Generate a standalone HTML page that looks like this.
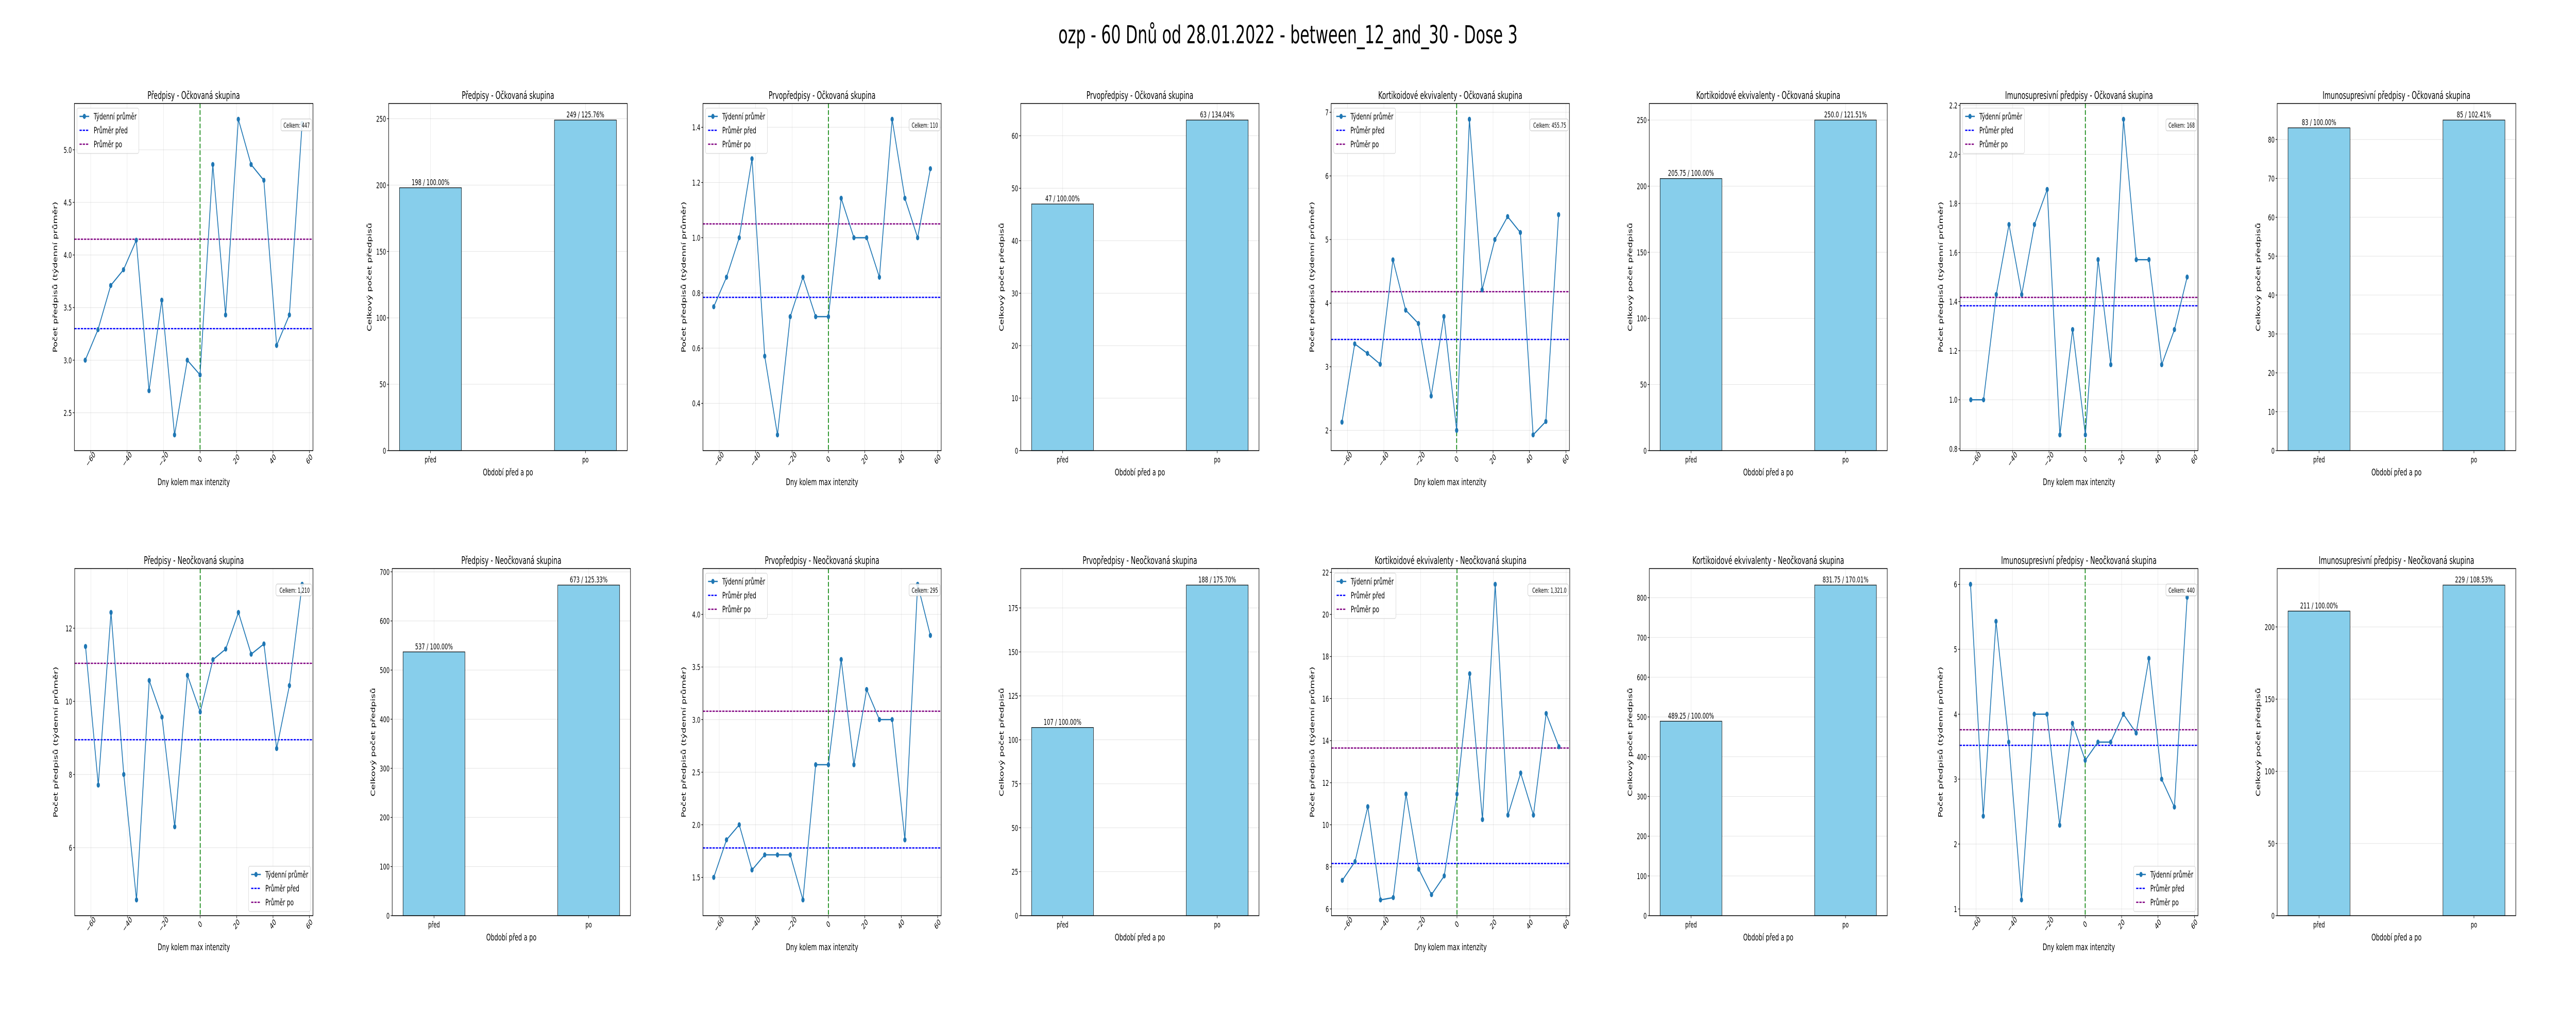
<!DOCTYPE html>
<html>
<head>
<meta charset="utf-8">
<style>
html,body{margin:0;padding:0;background:#fff;overflow:hidden;width:100vw;height:100vh;}
svg{display:block;width:100vw;height:100vh;font-family:"DejaVu Sans","Liberation Sans",sans-serif;}
</style>
</head>
<body>
<svg id="fig" viewBox="0 0 8000 2000" preserveAspectRatio="none" xmlns="http://www.w3.org/2000/svg">
<rect x="0" y="0" width="8000" height="2000" fill="#fff"/>
<text x="4000" y="84" text-anchor="middle" font-size="48" fill="#000">ozp - 60 Dnů od 28.01.2022 - between_12_and_30 - Dose 3</text>
</svg>
<script>
// ---- shared data ----
const days = [-63,-56,-49,-42,-35,-28,-21,-14,-7,0,7,14,21,28,35,42,49,56];
const xTicks = [-60,-40,-20,0,20,40,60];
const barCategories = ["před","po"];

// ---- top row: Očkovaná ----
const predOckWeekly = [3.0,3.29,3.71,3.86,4.14,2.71,3.57,2.29,3.0,2.86,4.86,3.43,5.29,4.86,4.71,3.14,3.43,5.25];
const predOckMeans = [3.30,4.15];
const predOckYTicks = [2.5,3.0,3.5,4.0,4.5,5.0];
const predOckYLabels = ["2.5","3.0","3.5","4.0","4.5","5.0"];
const predOckTotals = [198,249];
const predOckBarLabels = ["198 / 100.00%","249 / 125.76%"];
const predOckBarTicks = [0,50,100,150,200,250];

const prvoOckWeekly = [0.75,0.857,1.0,1.286,0.571,0.286,0.714,0.857,0.714,0.714,1.143,1.0,1.0,0.857,1.429,1.143,1.0,1.25];
const prvoOckMeans = [0.784,1.05];
const prvoOckYTicks = [0.4,0.6,0.8,1.0,1.2,1.4];
const prvoOckYLabels = ["0.4","0.6","0.8","1.0","1.2","1.4"];
const prvoOckTotals = [47,63];
const prvoOckBarLabels = ["47 / 100.00%","63 / 134.04%"];
const prvoOckBarTicks = [0,10,20,30,40,50,60];

const kortOckWeekly = [2.13,3.36,3.21,3.04,4.68,3.89,3.68,2.54,3.79,2.0,6.89,4.21,5.0,5.36,5.11,1.93,2.14,5.39];
const kortOckMeans = [3.43,4.18];
const kortOckYTicks = [2,3,4,5,6,7];
const kortOckYLabels = ["2","3","4","5","6","7"];
const kortOckTotals = [205.75,250.0];
const kortOckBarLabels = ["205.75 / 100.00%","250.0 / 121.51%"];
const kortOckBarTicks = [0,50,100,150,200,250];

const imunOckWeekly = [1.0,1.0,1.429,1.714,1.429,1.714,1.857,0.857,1.286,0.857,1.571,1.143,2.143,1.571,1.571,1.143,1.286,1.5];
const imunOckMeans = [1.383,1.417];
const imunOckYTicks = [0.8,1.0,1.2,1.4,1.6,1.8,2.0,2.2];
const imunOckYLabels = ["0.8","1.0","1.2","1.4","1.6","1.8","2.0","2.2"];
const imunOckTotals = [83,85];
const imunOckBarLabels = ["83 / 100.00%","85 / 102.41%"];
const imunOckBarTicks = [0,10,20,30,40,50,60,70,80];

// ---- bottom row: Neočkovaná ----
const predNeoWeekly = [11.5,7.71,12.43,8.0,4.57,10.57,9.57,6.57,10.71,9.71,11.14,11.43,12.43,11.29,11.57,8.71,10.43,13.2];
const predNeoMeans = [8.95,11.04];
const predNeoYTicks = [6,8,10,12];
const predNeoYLabels = ["6","8","10","12"];
const predNeoTotals = [537,673];
const predNeoBarLabels = ["537 / 100.00%","673 / 125.33%"];
const predNeoBarTicks = [0,100,200,300,400,500,600,700];

const prvoNeoWeekly = [1.5,1.857,2.0,1.571,1.714,1.714,1.714,1.286,2.571,2.571,3.571,2.571,3.286,3.0,3.0,1.857,4.286,3.8];
const prvoNeoMeans = [1.78,3.08];
const prvoNeoYTicks = [1.5,2.0,2.5,3.0,3.5,4.0];
const prvoNeoYLabels = ["1.5","2.0","2.5","3.0","3.5","4.0"];
const prvoNeoTotals = [107,188];
const prvoNeoBarLabels = ["107 / 100.00%","188 / 175.70%"];
const prvoNeoBarTicks = [0,25,50,75,100,125,150,175];

const kortNeoWeekly = [7.36,8.25,10.86,6.43,6.54,11.46,7.89,6.68,7.57,11.46,17.18,10.25,21.43,10.46,12.46,10.46,15.29,13.71];
const kortNeoMeans = [8.16,13.65];
const kortNeoYTicks = [6,8,10,12,14,16,18,20,22];
const kortNeoYLabels = ["6","8","10","12","14","16","18","20","22"];
const kortNeoTotals = [489.25,831.75];
const kortNeoBarLabels = ["489.25 / 100.00%","831.75 / 170.01%"];
const kortNeoBarTicks = [0,100,200,300,400,500,600,700,800];

const imunNeoWeekly = [6.0,2.43,5.43,3.57,1.14,4.0,4.0,2.29,3.86,3.29,3.57,3.57,4.0,3.71,4.86,3.0,2.57,5.8];
const imunNeoMeans = [3.52,3.76];
const imunNeoYTicks = [1,2,3,4,5,6];
const imunNeoYLabels = ["1","2","3","4","5","6"];
const imunNeoTotals = [211,229];
const imunNeoBarLabels = ["211 / 100.00%","229 / 108.53%"];
const imunNeoBarTicks = [0,50,100,150,200];

const celkemLabels = ["Celkem: 447","Celkem: 110","Celkem: 455.75","Celkem: 168","Celkem: 1,210","Celkem: 295","Celkem: 1,321.0","Celkem: 440"];

const NS = "http://www.w3.org/2000/svg";
const fig = document.getElementById("fig");
function el(tag, attrs, parent, text){
  const e = document.createElementNS(NS, tag);
  for (const k in attrs) e.setAttribute(k, attrs[k]);
  if (text !== undefined) e.textContent = text;
  (parent || fig).appendChild(e);
  return e;
}
function fmtMinus(s){ return String(s).replace("-", "\u2212"); }

function linePanel(p){
  const g = el("g", {}, fig);
  
  
  const {L,T,R,B} = p;
  const dmin = Math.min(...days), dmax = Math.max(...days);
  const dr = dmax - dmin;
  const x0 = dmin - 0.05*dr, x1 = dmax + 0.05*dr;
  const vmin = Math.min(...p.values), vmax = Math.max(...p.values);
  const vr = vmax - vmin;
  const y0 = vmin - 0.05*vr, y1 = vmax + 0.05*vr;
  const sx = v => L + (v - x0)/(x1 - x0)*(R - L);
  const sy = v => B - (v - y0)/(y1 - y0)*(B - T);
  xTicks.forEach(t => {
    const gl = el("line", {x1:sx(t), x2:sx(t), y1:T, y2:B, stroke:"#b0b0b0", "stroke-opacity":0.35, "stroke-width":1}, g);
    
    
  });
  p.yTicks.forEach(t => {
    if (t < y0 || t > y1) return;
    const gl = el("line", {x1:L, x2:R, y1:sy(t), y2:sy(t), stroke:"#b0b0b0", "stroke-opacity":0.35, "stroke-width":1}, g);
    
    
  });
  const mb = el("line", {x1:L, x2:R, y1:sy(p.means[0]), y2:sy(p.means[0]), stroke:"#0000ff", "stroke-width":2.5, "stroke-dasharray":"7,3"}, g);
  
  
  const ma = el("line", {x1:L, x2:R, y1:sy(p.means[1]), y2:sy(p.means[1]), stroke:"#800080", "stroke-width":2.5, "stroke-dasharray":"7,3"}, g);
  
  
  const vz = el("line", {x1:sx(0), x2:sx(0), y1:T, y2:B, stroke:"#008000", "stroke-width":2.5, "stroke-dasharray":"9,4"}, g);
  
  
  const pts = days.map((d,i) => sx(d).toFixed(1) + "," + sy(p.values[i]).toFixed(1)).join(" ");
  const pl = el("polyline", {points:pts, fill:"none", stroke:"#1f77b4", "stroke-width":2.5, "stroke-linejoin":"round"}, g);
  
  
  days.forEach((d,i) => {
    const c = el("circle", {cx:sx(d), cy:sy(p.values[i]), r:5, fill:"#1f77b4"}, g);
    
    
  });
  const sp = el("rect", {x:L, y:T, width:R-L, height:B-T, fill:"none", stroke:"#000", "stroke-width":1.5}, g);
  
  
  p.yTicks.forEach((t,i) => {
    if (t < y0 || t > y1) return;
    el("line", {x1:L-5, x2:L, y1:sy(t), y2:sy(t), stroke:"#000", "stroke-width":1.2}, g);
    const tl = el("text", {x:L-8, y:sy(t)+6, "text-anchor":"end", "font-size":16, fill:"#000"}, g, p.yLabels[i]);
    
    
  });
  xTicks.forEach(t => {
    const x = sx(t);
    el("line", {x1:x, x2:x, y1:B, y2:B+5, stroke:"#000", "stroke-width":1.2}, g);
    const tl = el("text", {x:x, y:B+22, "text-anchor":"middle", "font-size":16, fill:"#000", transform:"rotate(-45 " + x + " " + (B+17) + ")"}, g, fmtMinus(t));
    
    
  });
  const tt = el("text", {x:(L+R)/2, y:T-9, "text-anchor":"middle", "font-size":20, fill:"#000"}, g, p.title);
  
  
  const xl = el("text", {x:(L+R)/2, y:B+67, "text-anchor":"middle", "font-size":18, fill:"#000"}, g, "Dny kolem max intenzity");
  
  
  const yx = L - 53, yy = (T+B)/2;
  const yl = el("text", {x:yx, y:yy, "text-anchor":"middle", "font-size":18, fill:"#000", transform:"rotate(-90 " + yx + " " + yy + ")"}, g, "Počet předpisů (týdenní průměr)");
  
  
  const lw = 192, lh = 88;
  const lx = p.legendLow ? R - 8 - lw : L + 8;
  const ly = p.legendLow ? B - 8 - lh : T + 9;
  const lg = el("g", {}, g);
  
  
  el("rect", {x:lx, y:ly, width:lw, height:lh, rx:4, fill:"#fff", "fill-opacity":0.85, stroke:"#cccccc", "stroke-width":1}, lg);
  const rows = [["Týdenní průměr","#1f77b4",false],["Průměr před","#0000ff",true],["Průměr po","#800080",true]];
  rows.forEach((r,i) => {
    const cy = ly + 16 + i*27;
    const le = el("g", {}, lg);
    
    
    if (r[2]) {
      el("line", {x1:lx+8, x2:lx+38, y1:cy, y2:cy, stroke:r[1], "stroke-width":2.5, "stroke-dasharray":"7,3"}, le);
    } else {
      el("line", {x1:lx+8, x2:lx+38, y1:cy, y2:cy, stroke:r[1], "stroke-width":2.5}, le);
      el("circle", {cx:lx+23, cy:cy, r:5, fill:r[1]}, le);
    }
    el("text", {x:lx+52, y:cy+6, "font-size":17, fill:"#000"}, le, r[0]);
  });
  const cb = el("g", {}, g);
  
  
  const w = p.total.length * 7.6;
  el("rect", {x:R-10-w-6, y:T+30, width:w+12, height:23, rx:4, fill:"#fff", "fill-opacity":0.85, stroke:"#bbbbbb", "stroke-width":1}, cb);
  el("text", {x:R-10, y:T+47, "text-anchor":"end", "font-size":13, fill:"#000"}, cb, p.total);
}

function barPanel(p){
  const g = el("g", {}, fig);
  
  
  const {L,T,R,B} = p;
  const x0 = -0.27, x1 = 1.27;
  const y1 = Math.max(...p.values) * 1.05;
  const sx = v => L + (v - x0)/(x1 - x0)*(R - L);
  const sy = v => B - v / y1 * (B - T);
  barCategories.forEach((c,i) => {
    const gl = el("line", {x1:sx(i), x2:sx(i), y1:T, y2:B, stroke:"#b0b0b0", "stroke-opacity":0.35, "stroke-width":1}, g);
    
    
  });
  p.yTicks.forEach(t => {
    const gl = el("line", {x1:L, x2:R, y1:sy(t), y2:sy(t), stroke:"#b0b0b0", "stroke-opacity":0.35, "stroke-width":1}, g);
    
    
  });
  p.values.forEach((v,i) => {
    const bl = sx(i - 0.2), br = sx(i + 0.2);
    const b = el("rect", {x:bl, y:sy(v), width:br-bl, height:sy(0)-sy(v), fill:"#87ceeb", stroke:"#000", "stroke-width":1.2}, g);
    
    
    const lt = el("text", {x:sx(i), y:sy(v)-5, "text-anchor":"middle", "font-size":16, fill:"#000"}, g, p.labels[i]);
    
    
  });
  const sp = el("rect", {x:L, y:T, width:R-L, height:B-T, fill:"none", stroke:"#000", "stroke-width":1.5}, g);
  
  
  p.yTicks.forEach(t => {
    el("line", {x1:L-5, x2:L, y1:sy(t), y2:sy(t), stroke:"#000", "stroke-width":1.2}, g);
    const tl = el("text", {x:L-8, y:sy(t)+6, "text-anchor":"end", "font-size":16, fill:"#000"}, g, String(t));
    
    
  });
  barCategories.forEach((c,i) => {
    el("line", {x1:sx(i), x2:sx(i), y1:B, y2:B+5, stroke:"#000", "stroke-width":1.2}, g);
    const tl = el("text", {x:sx(i), y:B+23, "text-anchor":"middle", "font-size":16, fill:"#000"}, g, c);
    
    
  });
  const tt = el("text", {x:(L+R)/2, y:T-9, "text-anchor":"middle", "font-size":20, fill:"#000"}, g, p.title);
  
  
  const xl = el("text", {x:(L+R)/2, y:B+48, "text-anchor":"middle", "font-size":18, fill:"#000"}, g, "Období před a po");
  
  
  const yx = L - 53, yy = (T+B)/2;
  const yl = el("text", {x:yx, y:yy, "text-anchor":"middle", "font-size":18, fill:"#000", transform:"rotate(-90 " + yx + " " + yy + ")"}, g, "Celkový počet předpisů");
  
  
}

const TOP = [201, 875], BOT = [1104, 1778];

linePanel({name:"predpisy-ockovana", L:231, R:972, T:TOP[0], B:TOP[1], title:"Předpisy - Očkovaná skupina", values:predOckWeekly, means:predOckMeans, yTicks:predOckYTicks, yLabels:predOckYLabels, total:celkemLabels[0], legendLow:false});
barPanel({name:"predpisy-ockovana", L:1207, R:1948, T:TOP[0], B:TOP[1], title:"Předpisy - Očkovaná skupina", values:predOckTotals, labels:predOckBarLabels, yTicks:predOckBarTicks});
linePanel({name:"prvopredpisy-ockovana", L:2183, R:2923, T:TOP[0], B:TOP[1], title:"Prvopředpisy - Očkovaná skupina", values:prvoOckWeekly, means:prvoOckMeans, yTicks:prvoOckYTicks, yLabels:prvoOckYLabels, total:celkemLabels[1], legendLow:false});
barPanel({name:"prvopredpisy-ockovana", L:3170, R:3910, T:TOP[0], B:TOP[1], title:"Prvopředpisy - Očkovaná skupina", values:prvoOckTotals, labels:prvoOckBarLabels, yTicks:prvoOckBarTicks});
linePanel({name:"kortikoidy-ockovana", L:4134, R:4874, T:TOP[0], B:TOP[1], title:"Kortikoidové ekvivalenty - Očkovaná skupina", values:kortOckWeekly, means:kortOckMeans, yTicks:kortOckYTicks, yLabels:kortOckYLabels, total:celkemLabels[2], legendLow:false});
barPanel({name:"kortikoidy-ockovana", L:5122, R:5861, T:TOP[0], B:TOP[1], title:"Kortikoidové ekvivalenty - Očkovaná skupina", values:kortOckTotals, labels:kortOckBarLabels, yTicks:kortOckBarTicks});
linePanel({name:"imunosupresivni-ockovana", L:6087, R:6826, T:TOP[0], B:TOP[1], title:"Imunosupresivní předpisy - Očkovaná skupina", values:imunOckWeekly, means:imunOckMeans, yTicks:imunOckYTicks, yLabels:imunOckYLabels, total:celkemLabels[3], legendLow:false});
barPanel({name:"imunosupresivni-ockovana", L:7072, R:7813, T:TOP[0], B:TOP[1], title:"Imunosupresivní předpisy - Očkovaná skupina", values:imunOckTotals, labels:imunOckBarLabels, yTicks:imunOckBarTicks});

linePanel({name:"predpisy-neockovana", L:232, R:972, T:BOT[0], B:BOT[1], title:"Předpisy - Neočkovaná skupina", values:predNeoWeekly, means:predNeoMeans, yTicks:predNeoYTicks, yLabels:predNeoYLabels, total:celkemLabels[4], legendLow:true});
barPanel({name:"predpisy-neockovana", L:1218, R:1958, T:BOT[0], B:BOT[1], title:"Předpisy - Neočkovaná skupina", values:predNeoTotals, labels:predNeoBarLabels, yTicks:predNeoBarTicks});
linePanel({name:"prvopredpisy-neockovana", L:2183, R:2923, T:BOT[0], B:BOT[1], title:"Prvopředpisy - Neočkovaná skupina", values:prvoNeoWeekly, means:prvoNeoMeans, yTicks:prvoNeoYTicks, yLabels:prvoNeoYLabels, total:celkemLabels[5], legendLow:false});
barPanel({name:"prvopredpisy-neockovana", L:3170, R:3910, T:BOT[0], B:BOT[1], title:"Prvopředpisy - Neočkovaná skupina", values:prvoNeoTotals, labels:prvoNeoBarLabels, yTicks:prvoNeoBarTicks});
linePanel({name:"kortikoidy-neockovana", L:4135, R:4875, T:BOT[0], B:BOT[1], title:"Kortikoidové ekvivalenty - Neočkovaná skupina", values:kortNeoWeekly, means:kortNeoMeans, yTicks:kortNeoYTicks, yLabels:kortNeoYLabels, total:celkemLabels[6], legendLow:false});
barPanel({name:"kortikoidy-neockovana", L:5122, R:5861, T:BOT[0], B:BOT[1], title:"Kortikoidové ekvivalenty - Neočkovaná skupina", values:kortNeoTotals, labels:kortNeoBarLabels, yTicks:kortNeoBarTicks});
linePanel({name:"imunosupresivni-neockovana", L:6086, R:6826, T:BOT[0], B:BOT[1], title:"Imunosupresivní předpisy - Neočkovaná skupina", values:imunNeoWeekly, means:imunNeoMeans, yTicks:imunNeoYTicks, yLabels:imunNeoYLabels, total:celkemLabels[7], legendLow:true});
barPanel({name:"imunosupresivni-neockovana", L:7072, R:7813, T:BOT[0], B:BOT[1], title:"Imunosupresivní předpisy - Neočkovaná skupina", values:imunNeoTotals, labels:imunNeoBarLabels, yTicks:imunNeoBarTicks});
</script>
</body>
</html>
